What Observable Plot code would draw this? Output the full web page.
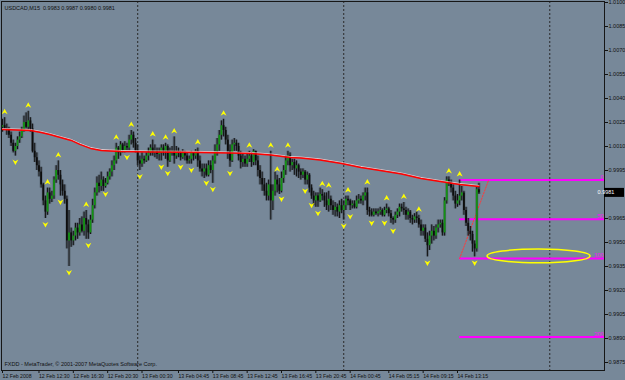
<!DOCTYPE html>
<html><head><meta charset="utf-8">
<script src="https://cdn.jsdelivr.net/npm/d3@7"></script>
<script src="https://cdn.jsdelivr.net/npm/@observablehq/plot@0.6"></script>
<style>
html,body{margin:0;padding:0;background:#778899;overflow:hidden}
#chart svg{display:block}
</style></head><body><div id="chart"></div>
<script>
const symbolName = "USDCAD,M15";
const copyright = "FXDD - MetaTrader, \u00a9 2001-2007 MetaQuotes Software Corp.";

const open = [
1.0022,1.0023,1.0021,1.0020,1.0017,1.0012,1.0007,1.0010,1.0014,1.0016,
1.0020,1.0025,1.0022,1.0026,1.0021,1.0007,1.0003,0.9998,0.9994,0.9986,
0.9976,0.9969,0.9981,0.9977,0.9979,0.9989,0.9995,0.9992,0.9986,0.9982,
0.9977,0.9951,0.9956,0.9951,0.9954,0.9959,0.9956,0.9961,0.9957,0.9965,
0.9961,0.9956,0.9964,0.9973,0.9981,0.9987,0.9985,0.9989,0.9985,0.9987,
0.9991,0.9994,0.9998,1.0001,1.0009,1.0006,1.0011,1.0007,1.0010,1.0009,
1.0014,1.0017,1.0012,1.0007,1.0001,0.9999,1.0002,1.0001,1.0004,1.0006,
1.0009,1.0006,1.0007,1.0005,1.0006,1.0009,1.0007,1.0010,1.0001,1.0006,
1.0007,1.0004,1.0007,1.0006,1.0003,1.0006,1.0004,1.0001,1.0002,1.0006,
1.0004,1.0007,1.0001,0.9996,0.9994,0.9996,0.9992,0.9998,0.9995,1.0001,
1.0007,1.0011,1.0017,1.0023,1.0020,1.0014,1.0007,1.0001,1.0011,1.0012,
1.0010,1.0004,1.0000,1.0002,0.9999,1.0002,1.0004,1.0000,1.0007,1.0001,
0.9995,0.9990,0.9986,0.9982,0.9979,0.9986,0.9976,0.9982,0.9989,0.9986,
0.9982,0.9990,0.9995,1.0001,1.0004,0.9998,1.0000,0.9996,0.9998,0.9994,
0.9992,0.9994,0.9989,0.9992,0.9984,0.9979,0.9976,0.9979,0.9976,0.9980,
0.9979,0.9976,0.9973,0.9977,0.9973,0.9970,0.9972,0.9969,0.9973,0.9970,
0.9973,0.9977,0.9976,0.9973,0.9974,0.9972,0.9976,0.9977,0.9976,0.9979,
0.9981,0.9970,0.9969,0.9967,0.9969,0.9968,0.9969,0.9970,0.9967,0.9970,
0.9971,0.9968,0.9965,0.9964,0.9967,0.9969,0.9972,0.9971,0.9970,0.9967,
0.9969,0.9965,0.9964,0.9966,0.9965,0.9961,0.9957,0.9959,0.9952,0.9948,
0.9954,0.9957,0.9954,0.9959,0.9961,0.9962,0.9956,0.9976,0.9989,0.9987,
0.9984,0.9979,0.9974,0.9976,0.9979,0.9981,0.9970,0.9962,0.9957,0.9955,
0.9949,0.9946,0.9983];

const high = [
1.0027,1.0028,1.0024,1.0022,1.0019,1.0014,1.0012,1.0016,1.0019,1.0022,
1.0029,1.0031,1.0032,1.0028,1.0024,1.0012,1.0006,1.0001,0.9997,0.9987,
0.9979,0.9984,0.9984,0.9982,0.9991,0.9998,1.0001,0.9995,0.9989,0.9986,
0.9979,0.9970,0.9959,0.9957,0.9962,0.9962,0.9965,0.9966,0.9969,0.9970,
0.9964,0.9967,0.9977,0.9984,0.9991,0.9992,0.9994,0.9991,0.9990,0.9994,
0.9996,1.0001,1.0004,1.0012,1.0010,1.0013,1.0012,1.0013,1.0012,1.0017,
1.0020,1.0019,1.0015,1.0011,1.0004,1.0006,1.0004,1.0006,1.0009,1.0011,
1.0014,1.0011,1.0009,1.0009,1.0011,1.0011,1.0012,1.0011,1.0009,1.0010,
1.0016,1.0010,1.0009,1.0007,1.0008,1.0007,1.0006,1.0004,1.0007,1.0006,
1.0008,1.0009,1.0004,0.9999,0.9999,0.9999,1.0001,1.0001,1.0004,1.0011,
1.0015,1.0020,1.0026,1.0027,1.0022,1.0017,1.0011,1.0014,1.0015,1.0014,
1.0012,1.0007,1.0005,1.0004,1.0006,1.0007,1.0006,1.0008,1.0007,1.0004,
0.9998,0.9994,0.9990,0.9987,0.9989,1.0007,0.9986,0.9994,0.9992,0.9990,
0.9994,0.9998,1.0004,1.0007,1.0006,1.0002,1.0002,1.0001,0.9999,0.9996,
0.9996,0.9995,0.9994,0.9993,0.9986,0.9982,0.9981,0.9981,0.9984,0.9983,
0.9981,0.9981,0.9982,0.9979,0.9976,0.9975,0.9974,0.9976,0.9977,0.9976,
0.9979,0.9979,0.9977,0.9976,0.9976,0.9979,0.9980,0.9979,0.9981,0.9984,
0.9984,0.9972,0.9971,0.9971,0.9971,0.9971,0.9972,0.9971,0.9972,0.9974,
0.9972,0.9970,0.9966,0.9969,0.9971,0.9974,0.9974,0.9975,0.9972,0.9971,
0.9970,0.9967,0.9968,0.9969,0.9967,0.9964,0.9961,0.9961,0.9956,0.9957,
0.9961,0.9960,0.9961,0.9964,0.9964,0.9964,0.9978,0.9991,0.9991,0.9989,
0.9986,0.9982,0.9980,0.9989,0.9985,0.9982,0.9972,0.9965,0.9960,0.9957,
0.9951,0.9985,0.9987];

const low = [
1.0019,1.0020,1.0017,1.0015,1.0010,1.0006,1.0004,1.0008,1.0012,1.0015,
1.0019,1.0021,1.0020,1.0019,1.0006,1.0000,0.9995,0.9991,0.9984,0.9973,
0.9965,0.9967,0.9974,0.9975,0.9977,0.9987,0.9989,0.9979,0.9979,0.9974,
0.9946,0.9935,0.9947,0.9948,0.9951,0.9952,0.9954,0.9956,0.9954,0.9952,
0.9952,0.9955,0.9962,0.9971,0.9979,0.9981,0.9982,0.9982,0.9984,0.9986,
0.9989,0.9991,0.9995,0.9999,1.0002,1.0004,1.0006,1.0006,1.0007,1.0007,
1.0011,1.0009,1.0006,0.9998,0.9995,0.9997,0.9999,1.0000,1.0001,1.0004,
1.0004,1.0003,1.0002,1.0001,1.0001,1.0004,1.0002,0.9997,1.0000,1.0004,
0.9999,1.0002,1.0003,1.0001,1.0002,1.0001,0.9999,0.9999,0.9999,1.0001,
1.0002,0.9997,0.9994,0.9991,0.9990,0.9991,0.9991,0.9993,0.9987,0.9999,
1.0004,1.0007,1.0014,1.0016,1.0011,1.0002,0.9997,1.0000,1.0007,1.0007,
1.0001,0.9996,0.9997,0.9997,0.9997,1.0000,0.9997,0.9998,0.9998,0.9991,
0.9986,0.9982,0.9979,0.9976,0.9976,0.9964,0.9970,0.9979,0.9981,0.9980,
0.9981,0.9987,0.9992,0.9998,0.9994,0.9995,0.9992,0.9991,0.9990,0.9989,
0.9990,0.9986,0.9986,0.9981,0.9977,0.9973,0.9972,0.9972,0.9975,0.9976,
0.9972,0.9970,0.9969,0.9970,0.9967,0.9966,0.9966,0.9965,0.9968,0.9964,
0.9970,0.9973,0.9970,0.9971,0.9971,0.9971,0.9974,0.9974,0.9973,0.9976,
0.9967,0.9966,0.9966,0.9966,0.9967,0.9966,0.9967,0.9966,0.9966,0.9968,
0.9966,0.9962,0.9961,0.9962,0.9965,0.9966,0.9969,0.9967,0.9964,0.9964,
0.9962,0.9961,0.9962,0.9962,0.9959,0.9954,0.9954,0.9950,0.9941,0.9945,
0.9949,0.9951,0.9952,0.9956,0.9959,0.9954,0.9954,0.9974,0.9985,0.9981,
0.9976,0.9971,0.9972,0.9973,0.9976,0.9967,0.9960,0.9954,0.9951,0.9944,
0.9941,0.9944,0.9980];

const close = [
1.0023,1.0021,1.0020,1.0017,1.0012,1.0007,1.0010,1.0014,1.0016,1.0020,
1.0025,1.0022,1.0026,1.0021,1.0007,1.0003,0.9998,0.9994,0.9986,0.9976,
0.9969,0.9981,0.9977,0.9979,0.9989,0.9995,0.9992,0.9986,0.9982,0.9977,
0.9951,0.9956,0.9951,0.9954,0.9959,0.9956,0.9961,0.9957,0.9965,0.9961,
0.9956,0.9964,0.9973,0.9981,0.9987,0.9985,0.9989,0.9985,0.9987,0.9991,
0.9994,0.9998,1.0001,1.0009,1.0006,1.0011,1.0007,1.0010,1.0009,1.0014,
1.0017,1.0012,1.0007,1.0001,0.9999,1.0002,1.0001,1.0004,1.0006,1.0009,
1.0006,1.0007,1.0005,1.0006,1.0009,1.0007,1.0010,1.0001,1.0006,1.0007,
1.0004,1.0007,1.0006,1.0003,1.0006,1.0004,1.0001,1.0002,1.0006,1.0004,
1.0007,1.0001,0.9996,0.9994,0.9996,0.9992,0.9998,0.9995,1.0001,1.0007,
1.0011,1.0017,1.0023,1.0020,1.0014,1.0007,1.0001,1.0011,1.0012,1.0010,
1.0004,1.0000,1.0002,0.9999,1.0002,1.0004,1.0000,1.0007,1.0001,0.9995,
0.9990,0.9986,0.9982,0.9979,0.9986,0.9976,0.9982,0.9989,0.9986,0.9982,
0.9990,0.9995,1.0001,1.0004,0.9998,1.0000,0.9996,0.9998,0.9994,0.9992,
0.9994,0.9989,0.9992,0.9984,0.9979,0.9976,0.9979,0.9976,0.9980,0.9979,
0.9976,0.9973,0.9977,0.9973,0.9970,0.9972,0.9969,0.9973,0.9970,0.9973,
0.9977,0.9976,0.9973,0.9974,0.9972,0.9976,0.9977,0.9976,0.9979,0.9981,
0.9970,0.9969,0.9967,0.9969,0.9968,0.9969,0.9970,0.9967,0.9970,0.9971,
0.9968,0.9965,0.9964,0.9967,0.9969,0.9972,0.9971,0.9970,0.9967,0.9969,
0.9965,0.9964,0.9966,0.9965,0.9961,0.9957,0.9959,0.9952,0.9948,0.9954,
0.9957,0.9954,0.9959,0.9961,0.9962,0.9956,0.9976,0.9989,0.9987,0.9984,
0.9979,0.9974,0.9976,0.9979,0.9981,0.9970,0.9962,0.9957,0.9955,0.9949,
0.9946,0.9983,0.9981];

// moving average read at selected bars
const maBars   = [0, 13, 18, 22, 27, 32, 36, 41, 46, 50, 55, 69, 92, 106, 116, 125, 134, 139, 148, 158, 167, 176, 186, 195, 204, 213, 222];
const maValues = [1.00206, 1.00200, 1.00188, 1.00175, 1.00156, 1.00138, 1.00113, 1.00088, 1.00075, 1.00072, 1.00069, 1.00066, 1.00063, 1.00059, 1.00056, 1.00047, 1.00031, 1.00028, 1.00016, 0.99994, 0.99969, 0.99950, 0.99928, 0.99900, 0.99881, 0.99863, 0.99850];

// fractal markers (bar indices)
const fractalUp   = [1, 12, 21, 26, 39, 53, 60, 70, 76, 80, 91, 103, 115, 125, 128, 133, 149, 152, 161, 170, 179, 187, 194, 208, 213];
const fractalDown = [6, 20, 27, 31, 40, 48, 58, 64, 74, 77, 83, 88, 95, 98, 106, 130, 141, 144, 147, 159, 162, 172, 178, 182, 198, 220];

// day separators (bar index of midnight)
const daySeparators = [63, 159, 255];

// time axis
const xTickBars   = [0, 17, 33, 49, 65, 82, 98, 114, 130, 146, 162, 180, 196, 212];
const xTickLabels = ["12 Feb 2008", "12 Feb 12:30", "12 Feb 16:30", "12 Feb 20:30", "13 Feb 00:30", "13 Feb 04:45", "13 Feb 08:45", "13 Feb 12:45", "13 Feb 16:45", "13 Feb 20:45", "14 Feb 00:45", "14 Feb 05:15", "14 Feb 09:15", "14 Feb 13:15"];

// price axis
const yTicks = [1.0100, 1.0085, 1.0070, 1.0055, 1.0040, 1.0025, 1.0010, 0.9995, 0.9965, 0.9950, 0.9935, 0.9920, 0.9905, 0.9890, 0.9875];

// fibonacci object
const fibAnchorBars   = [213, 226.5];
const fibAnchorPrices = [0.9940, 0.9989];
const fibLevels = [0, 50, 100, 200];

// ellipse object
const ellipseBars   = [226, 274];
const ellipsePrices = [0.9937, 0.99456];

// ---------- build ----------
const bars = open.map((o, i) => ({i, o, h: high[i], l: low[i], c: close[i]}));
const ma = maBars.map((b, k) => ({b, v: maValues[k]}));
const fib = fibLevels.map(l => ({level: l, price: fibAnchorPrices[1] + (fibAnchorPrices[0] - fibAnchorPrices[1]) * l / 100}));
const fibDiag = fibAnchorBars.map((b, k) => ({b, p: fibAnchorPrices[k]}));
const last = bars[bars.length - 1];
const header = `${symbolName}  ${last.o.toFixed(4)} ${last.h.toFixed(4)} ${last.l.toFixed(4)} ${last.c.toFixed(4)}`;

const xDomain = [-0.466, 280.5];
const fmt = d3.format(".4f");

const upArrow = {draw(ctx) { ctx.moveTo(0, -3); ctx.lineTo(3, 2.5); ctx.lineTo(0, 0.8); ctx.lineTo(-3, 2.5); ctx.closePath(); }};
const downArrow = {draw(ctx) { ctx.moveTo(0, 3); ctx.lineTo(3, -2.5); ctx.lineTo(0, -0.8); ctx.lineTo(-3, -2.5); ctx.closePath(); }};

const plot = Plot.plot({
  width: 625, height: 380,
  marginLeft: 1, marginRight: 21, marginTop: 1, marginBottom: 10,
  style: {background: "#778899", color: "#111", fontFamily: "Liberation Sans, Arial, sans-serif"},
  x: {domain: xDomain},
  y: {domain: [0.987, 1.0100625]},
  marks: [
    Plot.ruleX(daySeparators, {x: d => d, stroke: "#2a2a2a", strokeDasharray: "2,2", strokeWidth: 1}),
    Plot.ruleY(fib, {y: "price", x1: fibAnchorBars[0], x2: xDomain[1], stroke: "#ff00ff", strokeWidth: 2}),
    Plot.line(fibDiag, {x: "b", y: "p", stroke: "#ff3a3a", strokeDasharray: "1.5,1.5", strokeWidth: 1}),
    Plot.ruleX(bars, {x: "i", y1: "l", y2: "h", stroke: "#2c3238", strokeOpacity: 0.35, strokeWidth: 3}),
    Plot.ruleX(bars, {x: "i", y1: "l", y2: "h", stroke: "#141414", strokeWidth: 1}),
    Plot.ruleX(bars, {x: "i", y1: "o", y2: "c", stroke: d => d.c > d.o ? "#139313" : "#0d0d0d", strokeWidth: 1.8}),
    Plot.line(ma, {x: "b", y: "v", stroke: "#ffd8d8", strokeWidth: 1, dy: -1, strokeOpacity: 0.8}),
    Plot.line(ma, {x: "b", y: "v", stroke: "#ff0000", strokeWidth: 1.5}),
    Plot.dot(fractalUp, {x: d => d, y: d => high[d], dy: -6, symbol: upArrow, fill: "#ffff00", stroke: null, r: 3}),
    Plot.dot(fractalDown, {x: d => d, y: d => low[d], dy: 6, symbol: downArrow, fill: "#ffff00", stroke: null, r: 3}),
    Plot.text(fib, {x: xDomain[1], y: "price", text: d => String(d.level), textAnchor: "end", dx: -1, dy: -3, fill: "#ff00ff", fontSize: 5.5}),
    Plot.text([header], {frameAnchor: "top-left", dx: 3, dy: 5, text: d => d, fontSize: 5.5, fill: "#111"}),
    Plot.text([copyright], {frameAnchor: "bottom-left", dx: 3, dy: -5, text: d => d, fontSize: 5.5, fill: "#111"}),
    Plot.axisY(yTicks, {anchor: "right", tickSize: 3, tickPadding: 1, tickFormat: fmt, fontSize: 5.5, label: null}),
    Plot.axisX(xTickBars, {anchor: "bottom", tickSize: 3, tickPadding: 1, textAnchor: "start", dx: 0, tickFormat: d => xTickLabels[xTickBars.indexOf(d)], fontSize: 5.2, label: null}),
    Plot.frame({stroke: "#161616"})
  ]
});

document.getElementById("chart").appendChild(plot);

// ellipse object & current price box drawn with the plot's scales
const sx = plot.scale("x"), sy = plot.scale("y");
const svg = d3.select(plot);
const ex0 = sx.apply(ellipseBars[0]), ex1 = sx.apply(ellipseBars[1]);
const ey0 = sy.apply(ellipsePrices[0]), ey1 = sy.apply(ellipsePrices[1]);
svg.append("ellipse")
  .attr("cx", (ex0 + ex1) / 2).attr("cy", (ey0 + ey1) / 2)
  .attr("rx", Math.abs(ex1 - ex0) / 2).attr("ry", Math.abs(ey1 - ey0) / 2)
  .attr("fill", "none").attr("stroke", "#ffff00").attr("stroke-width", 1.5);
const py = sy.apply(last.c);
const px = sx.range[1];
svg.append("rect").attr("x", px).attr("y", py - 4.5).attr("width", 20).attr("height", 9).attr("fill", "#000");
svg.append("text").attr("x", px + 2).attr("y", py + 2).attr("fill", "#fff")
  .attr("font-size", 5.5).attr("font-family", "Liberation Sans, Arial, sans-serif").text(fmt(last.c));
</script>
</body></html>
